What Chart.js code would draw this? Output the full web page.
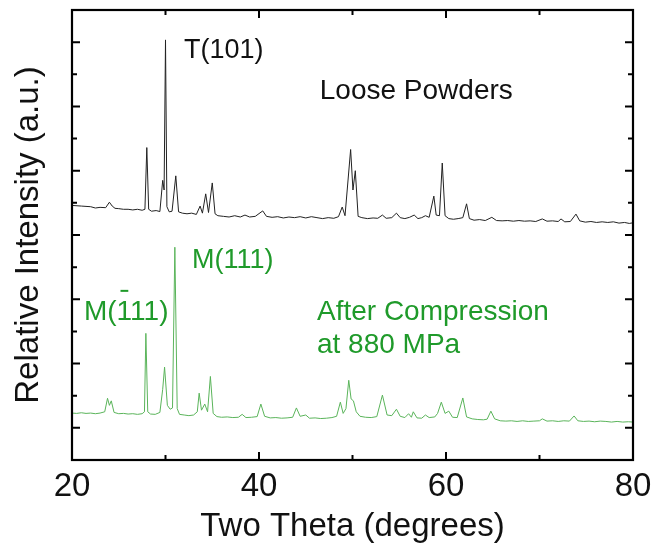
<!DOCTYPE html>
<html>
<head>
<meta charset="utf-8">
<script src="https://cdn.jsdelivr.net/npm/chart.js@4/dist/chart.umd.min.js"></script>
<style>
  html, body { margin: 0; padding: 0; background: #fff; }
  canvas { display: block; }
</style>
</head>
<body>
<canvas id="c" width="654" height="550"></canvas>
<script>
// ---- Data (two theta in degrees, relative intensity in arbitrary units) ----
const looseX = [20.0,21.0,22.0,22.5,23.0,23.6,24.0,24.3,24.6,25.0,25.5,26.0,26.5,27.0,27.5,27.8,28.0,28.2,28.5,29.0,29.4,29.7,29.85,30.0,30.15,30.4,30.7,31.1,31.4,31.8,32.3,32.8,33.3,33.7,33.95,34.3,34.6,35.0,35.3,35.6,36.2,36.8,37.4,38.0,38.5,39.0,39.6,40.4,40.8,41.4,42.0,42.6,43.2,43.8,44.4,45.0,45.6,46.2,46.8,47.4,48.0,48.5,48.9,49.2,49.8,50.05,50.3,50.6,51.0,51.6,52.2,52.7,53.2,53.6,54.2,54.7,55.1,55.6,56.1,56.6,57.0,57.4,57.8,58.2,58.7,58.95,59.3,59.6,59.9,60.3,60.8,61.3,61.8,62.2,62.5,63.0,63.6,64.2,64.9,65.4,66.0,66.6,67.2,67.8,68.4,69.0,69.6,70.3,70.8,71.4,72.0,72.3,72.7,73.3,73.9,74.3,74.9,75.5,76.1,76.7,77.3,77.9,78.5,79.1,79.6,80.0];
const looseY = [7.92,7.90,7.88,7.84,7.86,7.85,8.02,7.90,7.83,7.82,7.80,7.80,7.78,7.80,7.77,7.80,9.72,7.80,7.74,7.76,7.73,8.70,8.40,13.07,7.88,7.72,7.74,8.84,7.72,7.68,7.66,7.68,7.64,7.90,7.68,8.28,7.70,8.62,7.66,7.60,7.58,7.56,7.60,7.56,7.62,7.56,7.58,7.75,7.58,7.55,7.57,7.53,7.56,7.54,7.57,7.53,7.57,7.54,7.51,7.54,7.52,7.57,7.87,7.60,9.66,8.40,9.00,7.58,7.54,7.51,7.53,7.52,7.62,7.52,7.54,7.68,7.54,7.51,7.55,7.62,7.51,7.54,7.60,7.55,8.21,7.62,7.60,9.24,7.60,7.51,7.49,7.51,7.54,7.97,7.51,7.46,7.48,7.45,7.55,7.45,7.44,7.45,7.43,7.45,7.43,7.44,7.42,7.50,7.43,7.44,7.42,7.50,7.41,7.42,7.65,7.44,7.40,7.42,7.39,7.41,7.39,7.41,7.37,7.39,7.36,7.38];

const compX = [20.0,20.5,21.0,21.5,22.0,22.5,23.0,23.5,23.8,24.0,24.2,24.5,25.0,25.5,26.0,26.5,27.0,27.5,27.75,27.9,28.1,28.4,28.9,29.4,29.7,29.9,30.2,30.5,30.75,31.0,31.25,31.5,32.0,32.5,33.0,33.4,33.6,33.85,34.2,34.5,34.8,35.1,35.5,36.0,36.6,37.2,37.8,38.2,38.6,39.2,39.8,40.2,40.6,41.2,41.8,42.4,43.0,43.6,44.0,44.4,45.0,45.4,46.0,46.6,47.2,47.8,48.3,48.7,49.0,49.3,49.6,49.85,50.1,50.4,50.8,51.4,52.0,52.6,53.2,53.7,54.2,54.7,55.1,55.6,56.0,56.3,56.5,56.9,57.4,57.8,58.2,58.8,59.1,59.5,59.9,60.3,60.7,61.2,61.8,62.2,62.8,63.4,64.0,64.4,64.8,65.2,65.8,66.4,67.0,67.6,68.2,68.8,69.4,70.0,70.3,70.8,71.4,72.0,72.6,73.2,73.7,74.1,74.7,75.3,75.9,76.5,77.1,77.7,78.3,78.9,79.5,80.0];
const compY = [1.46,1.45,1.47,1.45,1.46,1.44,1.46,1.50,1.92,1.70,1.84,1.48,1.44,1.45,1.43,1.44,1.42,1.44,1.50,3.94,1.50,1.43,1.42,1.48,2.20,2.89,1.70,1.58,1.62,6.62,1.60,1.42,1.40,1.38,1.40,1.50,2.08,1.55,1.74,1.50,2.60,1.45,1.35,1.33,1.34,1.32,1.33,1.42,1.32,1.33,1.35,1.74,1.36,1.31,1.32,1.30,1.31,1.33,1.62,1.36,1.40,1.30,1.31,1.29,1.30,1.32,1.36,1.80,1.45,1.60,2.48,1.90,1.84,1.50,1.36,1.33,1.32,1.35,2.02,1.40,1.38,1.58,1.36,1.32,1.44,1.33,1.50,1.31,1.30,1.40,1.32,1.34,1.45,1.80,1.45,1.52,1.33,1.32,1.93,1.34,1.28,1.26,1.25,1.27,1.52,1.28,1.22,1.21,1.22,1.20,1.22,1.20,1.21,1.22,1.28,1.21,1.22,1.20,1.22,1.21,1.37,1.22,1.20,1.21,1.19,1.21,1.20,1.18,1.20,1.18,1.19,1.18];

const xTickLabels = [20, 40, 60, 80];
const xMinorTicks = [30, 50, 70];
const yTickValues = [1,2,3,4,5,6,7,8,9,10,11,12,13];

const FONT = "'Liberation Sans', Arial, Helvetica, sans-serif";
const GREEN_TEXT = '#1f9a2a';
const GREEN_LINE = 'rgb(90,180,90)';

function toPts(xs, ys) { return xs.map((x, i) => ({x: x, y: ys[i]})); }

const framePlugin = {
  id: 'frame',
  afterDraw(chart) {
    const ctx = chart.ctx;
    const a = chart.chartArea;
    const xs = chart.scales.x, ys = chart.scales.y;
    ctx.save();
    ctx.strokeStyle = '#000';
    ctx.lineWidth = 2.2;
    ctx.strokeRect(a.left, a.top, a.right - a.left, a.bottom - a.top);
    ctx.lineWidth = 2;
    ctx.beginPath();
    const xTick = (v, len) => {
      const p = xs.getPixelForValue(v);
      ctx.moveTo(p, a.bottom); ctx.lineTo(p, a.bottom - len);
      ctx.moveTo(p, a.top); ctx.lineTo(p, a.top + len);
    };
    xTickLabels.forEach(v => xTick(v, 8));
    xMinorTicks.forEach(v => xTick(v, 5));
    yTickValues.forEach(v => {
      const p = ys.getPixelForValue(v);
      const len = (v % 2 === 1) ? 8 : 5;
      ctx.moveTo(a.left, p); ctx.lineTo(a.left + len, p);
      ctx.moveTo(a.right, p); ctx.lineTo(a.right - len, p);
    });
    ctx.stroke();

    // annotations
    const px = v => xs.getPixelForValue(v);
    const py = v => ys.getPixelForValue(v);
    ctx.textBaseline = 'alphabetic';
    ctx.textAlign = 'left';
    ctx.fillStyle = '#111';
    ctx.font = '27px ' + FONT;
    ctx.fillText('T(101)', px(31.98), py(12.51));
    ctx.font = '28px ' + FONT;
    ctx.fillText('Loose Powders', px(46.5), py(11.23));

    ctx.fillStyle = GREEN_TEXT;
    ctx.font = '27px ' + FONT;
    ctx.fillText('M(111)', px(32.83), py(5.97));
    ctx.font = '28px ' + FONT;
    const mx = px(21.28), my = py(4.36);
    ctx.fillText('M(111)', mx, my);
    const w0 = ctx.measureText('M(').width;
    const w1 = ctx.measureText('1').width;
    ctx.strokeStyle = GREEN_TEXT;
    ctx.lineWidth = 2;
    ctx.beginPath();
    ctx.moveTo(mx + w0 + w1 * 0.25, my - 29);
    ctx.lineTo(mx + w0 + w1 * 0.75, my - 29);
    ctx.stroke();
    ctx.fillText('After Compression', px(46.2), py(4.36));
    ctx.fillText('at 880 MPa', px(46.2), py(3.33));
    ctx.restore();
  }
};

new Chart(document.getElementById('c'), {
  type: 'scatter',
  data: {
    datasets: [
      { label: 'Loose Powders', data: toPts(looseX, looseY), showLine: true,
        borderColor: '#222', borderWidth: 1, pointRadius: 0, tension: 0 },
      { label: 'After Compression at 880 MPa', data: toPts(compX, compY), showLine: true,
        borderColor: GREEN_LINE, borderWidth: 1, pointRadius: 0, tension: 0 }
    ]
  },
  options: {
    responsive: false,
    animation: false,
    devicePixelRatio: 1,
    layout: { padding: { left: 0, top: 10, right: 21, bottom: 0 } },
    plugins: { legend: { display: false }, tooltip: { enabled: false } },
    scales: {
      x: {
        type: 'linear', min: 20, max: 80,
        afterBuildTicks: s => { s.ticks = xTickLabels.map(v => ({ value: v })); },
        grid: { display: false, drawTicks: false },
        border: { display: false },
        ticks: { color: '#111', font: { family: FONT, size: 33 }, padding: 7, maxRotation: 0 },
        title: { display: true, text: 'Two Theta (degrees)', color: '#111',
                 font: { family: FONT, size: 33 }, padding: { top: 0, bottom: 3 } },
        afterFit: s => { s.height = 90; s.paddingLeft = 0; s.paddingRight = 0; }
      },
      y: {
        type: 'linear', min: 0, max: 14,
        ticks: { display: false, stepSize: 1 },
        grid: { display: false, drawTicks: false },
        border: { display: false },
        title: { display: true, text: 'Relative Intensity (a.u.)', color: '#111',
                 font: { family: FONT, size: 33 }, padding: { top: 9, bottom: 0 } },
        afterFit: s => { s.width = 72; s.paddingTop = 0; s.paddingBottom = 0; }
      }
    }
  },
  plugins: [framePlugin]
});
</script>
</body>
</html>
